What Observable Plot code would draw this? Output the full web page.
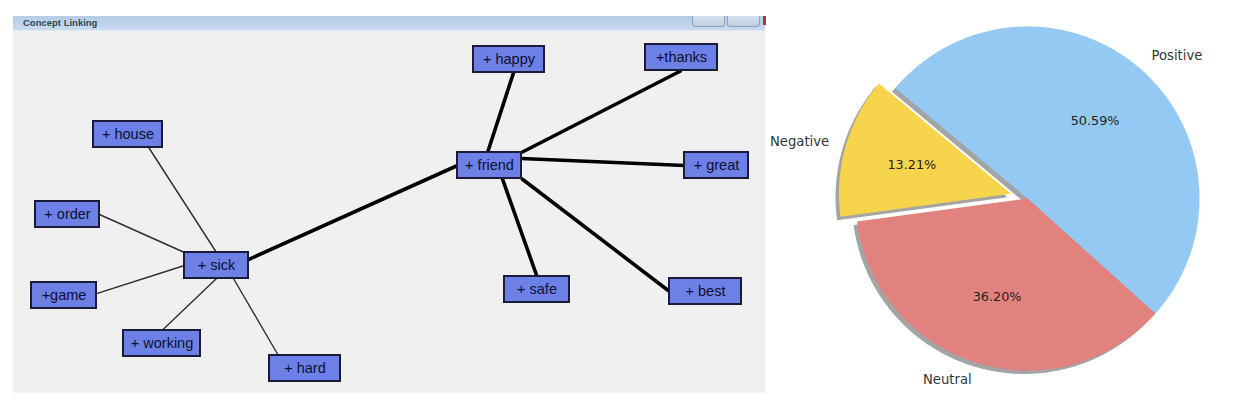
<!DOCTYPE html>
<html><head><meta charset="utf-8">
<script src="https://cdn.jsdelivr.net/npm/d3@7"></script>
<script src="https://cdn.jsdelivr.net/npm/@observablehq/plot@0.6"></script>
<style>
html,body{margin:0;padding:0;background:#fff;}
#page{position:relative;width:1238px;height:413px;overflow:hidden;background:#fff;font-family:"Liberation Sans",Arial,sans-serif;}
#win{position:absolute;left:13px;top:16px;width:752px;height:377px;background:#f0f0f0;}
#titlebar{position:absolute;left:0;top:0;width:752px;height:14px;background:linear-gradient(#b5cce6,#c8daef);border-bottom:1px solid #dfe9f4;overflow:hidden;}
#titlebar span{position:absolute;left:10px;top:2px;font-size:9.5px;line-height:10px;font-weight:bold;color:#3c424c;white-space:nowrap;}
.btn{position:absolute;top:-4px;width:31px;height:13px;border:1px solid #8da2ba;border-radius:3px;background:linear-gradient(#dbe5f1,#bdcee1);}
#red{position:absolute;left:763px;top:16px;width:3px;height:9px;background:#b03434;}
#left{position:absolute;left:0;top:0;}
#right{position:absolute;left:770px;top:0;}
</style></head>
<body>
<div id="page">
  <div id="win">
    <div id="titlebar"><span>Concept Linking</span>
      <div class="btn" style="left:679px"></div>
      <div class="btn" style="left:714px"></div>
    </div>
  </div>
  <div id="red"></div>
  <div id="left"></div>
  <div id="right"></div>
</div>
<script>
// ---------- Concept linking network (layout) ----------
const nodeNames = ["+ house","+ order","+game","+ working","+ hard","+ sick","+ friend","+ happy","+thanks","+ great","+ safe","+ best"];
const nodeX = [127.5, 67, 63.5, 161.5, 304.5, 216, 489, 508.5, 681, 716, 536.5, 705];
const nodeY = [134, 214, 295, 343, 368, 265, 165, 59, 57, 165, 289, 291];
const nodeW = [69, 64, 65, 77, 71, 64, 64, 71, 72, 64, 65, 72];

const linkSource = ["+ sick","+ sick","+ sick","+ sick","+ sick","+ sick","+ friend","+ friend","+ friend","+ friend","+ friend"];
const linkTarget = ["+ house","+ order","+game","+ working","+ hard","+ friend","+ happy","+thanks","+ great","+ safe","+ best"];
const linkStrength = [1, 1, 1, 1, 1, 2, 2, 2, 2, 2, 2];
// attachment point on each box, as fractions of its half width / half height
const sourcePort = [[0,-1],[-1,-1],[-1,0],[0,1],[0.53,1],[1,-0.46],[-0.06,-1],[1,-1],[1,-0.54],[0.4,1],[1,1]];
const targetPort = [[0.6,1],[1,0],[1,-0.15],[0,-1],[-0.75,-1],[-1,0],[0.13,1],[0,1],[-1,0],[0,-1],[-1,0]];

// ---------- Sentiment pie ----------
const sentiments = ["Positive","Negative","Neutral"];
const shares = [50.59, 13.21, 36.20];
const explodeBy = [0, 0.1, 0];
const startAngle = -42;

// styles
const boxH = 26;
const pieColors = ["#93c9f3", "#f6d44b", "#e2827f"];

const nodes = nodeNames.map((name, i) => ({name, x: nodeX[i], y: nodeY[i], w: nodeW[i]}));
const byName = new Map(nodes.map(n => [n.name, n]));
const port = (n, p) => [n.x + p[0] * n.w / 2, n.y + p[1] * boxH / 2];
const links = linkSource.map((s, i) => {
  const a = port(byName.get(s), sourcePort[i]);
  const b = port(byName.get(linkTarget[i]), targetPort[i]);
  return {x1: a[0], y1: a[1], x2: b[0], y2: b[1], strength: linkStrength[i]};
});

const left = Plot.plot({
  width: 770, height: 413, margin: 0,
  x: {domain: [0, 770], range: [0, 770], axis: null},
  y: {domain: [0, 413], range: [0, 413], axis: null},
  style: {background: "transparent", overflow: "visible"},
  marks: [
    Plot.link(links.filter(d => d.strength === 1), {x1: "x1", y1: "y1", x2: "x2", y2: "y2", stroke: "#2e2e2e", strokeWidth: 1.4}),
    Plot.link(links.filter(d => d.strength === 2), {x1: "x1", y1: "y1", x2: "x2", y2: "y2", stroke: "#000", strokeWidth: 3.6}),
    Plot.rect(nodes, {x1: d => d.x - d.w / 2, x2: d => d.x + d.w / 2, y1: d => d.y - boxH / 2, y2: d => d.y + boxH / 2,
      fill: "#6c80e6", stroke: "#1b1b38", strokeWidth: 2}),
    Plot.text(nodes, {x: "x", y: "y", text: "name", fontSize: 14.5, fill: "#0e1030",
      fontFamily: "Liberation Sans, Arial, sans-serif"})
  ]
});
document.getElementById("left").appendChild(left);

// pie geometry (unit radius)
const pieCx = 257, pieCy = 198, pieR = 172, pieW = 468, pieHt = 413;
let acc = 0;
const slices = sentiments.map((label, i) => {
  const t1 = startAngle + acc * 3.6;
  acc += shares[i];
  const t2 = startAngle + acc * 3.6;
  const mid = (t1 + t2) / 2 * Math.PI / 180;
  const cx = explodeBy[i] * Math.cos(mid), cy = explodeBy[i] * Math.sin(mid);
  return {label, share: shares[i], t1, t2, mid, cx, cy};
});
const piePts = [];
for (const s of slices) {
  piePts.push({slice: s.label, x: s.cx, y: s.cy});
  const n = Math.ceil((s.t2 - s.t1) / 0.5);
  for (let k = 0; k <= n; k++) {
    const a = (s.t1 + (s.t2 - s.t1) * k / n) * Math.PI / 180;
    piePts.push({slice: s.label, x: s.cx + Math.cos(a), y: s.cy + Math.sin(a)});
  }
  piePts.push({slice: s.label, x: s.cx, y: s.cy});
}
const pctLabels = slices.map(s => ({text: d3.format(".2f")(s.share) + "%", x: s.cx + 0.6 * Math.cos(s.mid), y: s.cy + 0.6 * Math.sin(s.mid)}));
const catLabels = slices.map(s => ({text: s.label, x: s.cx + 1.1 * Math.cos(s.mid), y: s.cy + 1.1 * Math.sin(s.mid)}));

const right = Plot.plot({
  width: pieW, height: pieHt, margin: 0,
  x: {domain: [-pieCx / pieR, (pieW - pieCx) / pieR], range: [0, pieW], axis: null},
  y: {domain: [pieCy / pieR, -(pieHt - pieCy) / pieR], range: [0, pieHt], axis: null},
  color: {domain: sentiments, range: pieColors},
  style: {background: "transparent", overflow: "visible"},
  marks: [
    Plot.line(piePts, {x: d => d.x - 0.02, y: d => d.y - 0.02, z: "slice", fill: "#4a4a4a", fillOpacity: 0.5, stroke: "none"}),
    Plot.line(piePts, {x: "x", y: "y", z: "slice", fill: "slice", stroke: "none"}),
    Plot.text(pctLabels, {x: "x", y: "y", text: "text", fontSize: 12.8, fill: "#232323", fontFamily: "DejaVu Sans"}),
    Plot.text(catLabels.filter(d => d.x > 0), {x: "x", y: "y", text: "text", textAnchor: "start", fontSize: 13.2, fill: "#353535", fontFamily: "DejaVu Sans"}),
    Plot.text(catLabels.filter(d => d.x <= 0), {x: "x", y: "y", text: "text", textAnchor: "end", fontSize: 13.2, fill: "#353535", fontFamily: "DejaVu Sans"})
  ]
});
document.getElementById("right").appendChild(right);
</script>
</body></html>
